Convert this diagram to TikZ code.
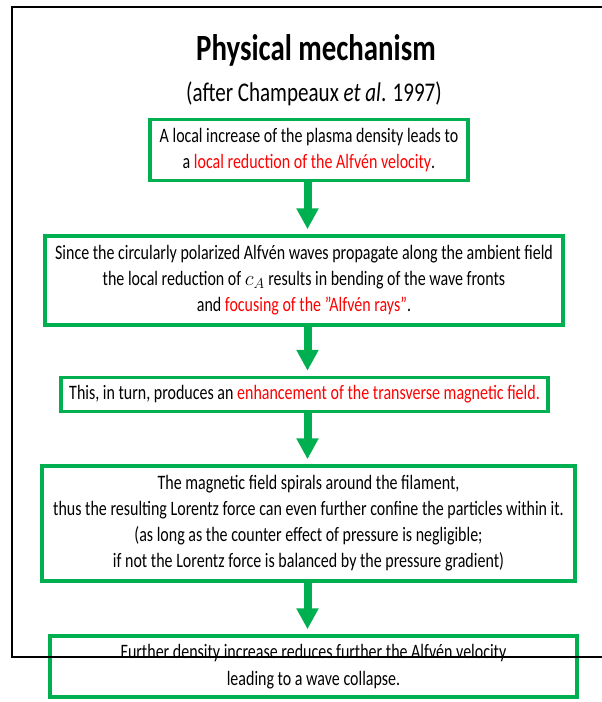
\documentclass[tikz,border=0pt]{standalone}
\usepackage{fontspec}
\setmainfont{Carlito}[FakeStretch=0.78]
\usetikzlibrary{arrows.meta}
\definecolor{boxgreen}{HTML}{00B050}
\definecolor{hired}{HTML}{FF0000}
\begin{document}
\begin{tikzpicture}[x=1pt,y=-1pt,
  stepbox/.style={draw=boxgreen, line width=3.5pt, fill=white, align=center,
    inner sep=0pt, font=\fontsize{20.5}{26}\selectfont},
  flow/.style={draw=boxgreen, line width=8pt,
    -{Triangle[width=21pt,length=21pt]}, shorten >=5pt},
  frame/.style={draw=black, line width=2pt}]
\useasboundingbox (0,0) rectangle (602,702);
\node[font=\fontsize{37}{44}\selectfont\bfseries] (title) at (316,50) {Physical mechanism};
\node[font=\fontsize{27}{32}\selectfont] (sub) at (314,94) {(after Champeaux \textit{et al}. 1997)};
\node[stepbox, minimum width=318pt, minimum height=61pt] (b1) at (309,150)
  {A local increase of the plasma density leads to\\
   a \textcolor{hired}{local reduction of the Alfvén velocity}.};
\node[stepbox, minimum width=518pt, minimum height=89pt] (b2) at (304,280.5)
  {Since the circularly polarized Alfvén waves propagate along the ambient field\\
   the local reduction of $c_A$ results in bending of the wave fronts\\
   and \textcolor{hired}{focusing of the ”Alfvén rays”}.};
\node[stepbox, minimum width=487pt, minimum height=34pt] (b3) at (304.5,394.5)
  {This, in turn, produces an \textcolor{hired}{enhancement of the transverse magnetic field.}};
\node[stepbox, minimum width=533pt, minimum height=115pt] (b4) at (308.5,523.5)
  {The magnetic field spirals around the filament,\\
   thus the resulting Lorentz force can even further confine the particles within it.\\
   (as long as the counter effect of pressure is negligible;\\
   if not the Lorentz force is balanced by the pressure gradient)};
\node[stepbox, minimum width=527pt, minimum height=61pt,
  font=\fontsize{20.5}{27}\selectfont] (b5) at (313.5,666.5)
  {Further density increase reduces further the Alfvén velocity\\
   leading to a wave collapse.};
\coordinate (ax) at (307.5,0);
\draw[flow] (b1.south -| ax) -- (b2.north -| ax);
\draw[flow] (b2.south -| ax) -- (b3.north -| ax);
\draw[flow] (b3.south -| ax) -- (b4.north -| ax);
\draw[flow] (b4.south -| ax) -- (b5.north -| ax);
\draw[frame] (602,7) -- (12,7) -- (12,657) -- (602,657);
\end{tikzpicture}
\end{document}
